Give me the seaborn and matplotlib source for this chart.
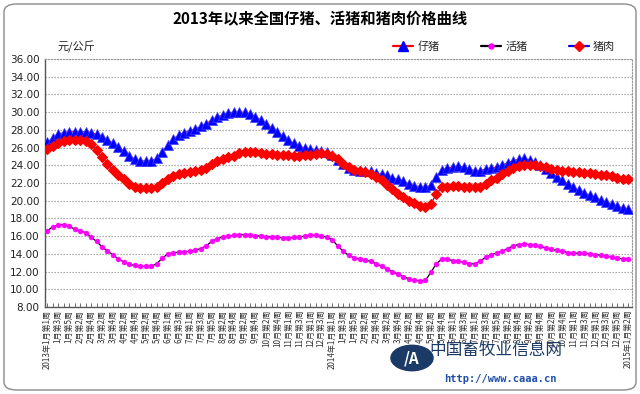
import matplotlib
matplotlib.use("Agg")
import matplotlib.pyplot as plt
from matplotlib.lines import Line2D
from matplotlib.patches import FancyBboxPatch, Circle
import seaborn as sns
import pandas as pd
import numpy as np

# ---------------- data ----------------
piglet = [26.6, 27.1, 27.5, 27.7, 27.8, 27.8, 27.8, 27.8, 27.7, 27.5,
          27.2, 26.9, 26.5, 26.1, 25.6, 25.1, 24.7, 24.5, 24.5, 24.5,
          24.8, 25.5, 26.3, 27.0, 27.4, 27.7, 27.9, 28.1, 28.4, 28.7,
          29.1, 29.4, 29.7, 29.9, 30.0, 30.0, 30.0, 29.8, 29.5, 29.1,
          28.7, 28.2, 27.8, 27.3, 26.8, 26.5, 26.2, 25.9, 25.8, 25.7,
          25.6, 25.5, 25.2, 24.6, 24.1, 23.7, 23.5, 23.4, 23.3, 23.3,
          23.1, 23.0, 22.9, 22.6, 22.4, 22.2, 21.9, 21.7, 21.6, 21.5,
          21.8, 22.7, 23.5, 23.7, 23.8, 23.9, 23.8, 23.6, 23.4, 23.4,
          23.6, 23.7, 23.8, 24.0, 24.3, 24.5, 24.7, 24.8, 24.6, 24.4,
          24.0, 23.6, 23.1, 22.7, 22.3, 21.9, 21.5, 21.2, 20.9, 20.6,
          20.4, 20.1, 19.9, 19.6, 19.4, 19.2, 19.1]

hog = [16.6, 17.05, 17.25, 17.3, 17.1, 16.8, 16.6, 16.4, 15.9, 15.4,
       14.8, 14.3, 13.9, 13.4, 13.1, 12.8, 12.7, 12.6, 12.6, 12.6,
       12.9, 13.5, 14.0, 14.1, 14.2, 14.25, 14.3, 14.4, 14.6, 14.9,
       15.4, 15.7, 15.9, 16.0, 16.1, 16.15, 16.15, 16.1, 16.05, 16.0,
       15.95, 15.9, 15.85, 15.8, 15.8, 15.85, 15.9, 16.0, 16.1, 16.1,
       16.0, 15.9, 15.6, 14.9, 14.3, 13.85, 13.55, 13.4, 13.3, 13.15,
       12.9, 12.6, 12.3, 12.0, 11.7, 11.4, 11.2, 11.05, 10.95, 11.0,
       11.9, 12.9, 13.4, 13.4, 13.25, 13.15, 13.05, 12.9, 12.85, 13.2,
       13.6, 13.9, 14.1, 14.3, 14.6, 14.9, 15.05, 15.1, 15.05, 15.0,
       14.85, 14.65, 14.5, 14.4, 14.3, 14.15, 14.05, 14.1, 14.05, 14.0,
       13.9, 13.85, 13.75, 13.6, 13.5, 13.45, 13.45]

pork = [25.8, 26.2, 26.5, 26.7, 26.8, 26.8, 26.8, 26.7, 26.4, 25.7,
        24.9, 24.2, 23.5, 22.9, 22.4, 21.9, 21.6, 21.4, 21.4, 21.4,
        21.5, 22.0, 22.5, 22.8, 23.0, 23.1, 23.2, 23.3, 23.5, 23.7,
        24.1, 24.5, 24.7, 24.9, 25.1, 25.4, 25.5, 25.5, 25.5, 25.4,
        25.3, 25.3, 25.2, 25.2, 25.2, 25.1, 25.1, 25.2, 25.2, 25.3,
        25.4, 25.3, 25.0, 24.7, 24.2, 23.8, 23.5, 23.4, 23.2, 23.0,
        22.7, 22.3, 21.8, 21.3, 20.8, 20.4, 20.0, 19.7, 19.4, 19.3,
        19.6, 20.8, 21.5, 21.6, 21.7, 21.7, 21.6, 21.6, 21.5, 21.5,
        21.9, 22.3, 22.6, 23.0, 23.3, 23.7, 23.9, 24.0, 24.0, 24.0,
        23.9, 23.8, 23.6, 23.5, 23.4, 23.3, 23.25, 23.2, 23.1, 23.1,
        23.0, 22.95, 22.85, 22.75, 22.6, 22.5, 22.4]

week_labels = [
    "2013年1月第1周", "1月第3周", "1月第5周", "2月第2周", "2月第4周", "3月第2周",
    "3月第4周", "4月第2周", "4月第4周", "5月第2周", "5月第4周", "6月第1周",
    "6月第3周", "7月第1周", "7月第3周", "7月第5周", "8月第2周", "8月第4周",
    "9月第2周", "9月第4周", "10月第2周", "10月第4周", "11月第1周", "11月第3周",
    "12月第1周", "12月第3周",
    "2014年1月第1周", "1月第3周", "1月第5周", "2月第2周", "2月第4周", "3月第2周",
    "3月第4周", "4月第2周", "4月第4周", "5月第2周", "5月第4周", "6月第1周",
    "6月第3周", "7月第1周", "7月第3周", "7月第5周", "8月第2周", "8月第4周",
    "9月第2周", "9月第4周", "10月第2周", "10月第4周", "11月第1周", "11月第3周",
    "12月第1周", "12月第3周", "12月第5周",
    "2015年1月第2周"]

series_names = ["仔猪", "活猪", "猪肉"]
y_ticks = [8, 10, 12, 14, 16, 18, 20, 22, 24, 26, 28, 30, 32, 34, 36]

# ---------------- style ----------------
sns.set_theme(style="white")
plt.rcParams["font.family"] = ["Noto Sans CJK SC", "DejaVu Sans"]

fig = plt.figure(figsize=(6.4, 3.94), dpi=100)
ax = fig.add_axes([45 / 640, 1 - 307 / 394, (632 - 45) / 640, (307 - 59) / 394])

weeks = np.arange(len(piglet))
df = pd.DataFrame({"week": weeks, "仔猪": piglet, "活猪": hog, "猪肉": pork})

sns.lineplot(data=df, x="week", y="仔猪", ax=ax, color="#ff0000", lw=0.8,
             marker="^", markersize=6.8, markerfacecolor="#0000ff",
             markeredgecolor="#3c3cff", markeredgewidth=0.5, zorder=3)
sns.lineplot(data=df, x="week", y="活猪", ax=ax, color="black", lw=0.9,
             marker="o", markersize=3.6, markerfacecolor="#ff00ff",
             markeredgecolor="#ff00ff", markeredgewidth=0.3, zorder=3)
sns.lineplot(data=df, x="week", y="猪肉", ax=ax, color="#0000ff", lw=0.8,
             marker="D", markersize=4.8, markerfacecolor="#ff0000",
             markeredgecolor="#ff0000", markeredgewidth=0.8, zorder=4)

ax.set_xlim(-0.4, 106.7)
ax.set_ylim(8, 36)
ax.set_yticks(y_ticks)
ax.set_yticklabels([f"{v:.2f}" for v in y_ticks], fontsize=7.5, color="#222222",
                   family=["DejaVu Sans"])
ax.set_xticks(np.arange(0, len(piglet), 2))
ax.set_xticklabels(week_labels, rotation=90, fontsize=5.8, color="#333333",
                   va="top", ha="center")
ax.set_xticks(weeks, minor=True)
ax.tick_params(axis="x", which="both", direction="in", length=3, width=0.6,
               color="#555555", pad=2, bottom=True)
ax.tick_params(axis="y", length=0, pad=4)
ax.set_xlabel("")
ax.set_ylabel("")

for v in y_ticks[1:]:
    ax.axhline(v, color="#9a9a9a", lw=0.8, ls=(0, (1.2, 1.5)), zorder=1)

for side in ["top", "right"]:
    ax.spines[side].set_linestyle((0, (1.2, 1.5)))
    ax.spines[side].set_color("#9a9a9a")
    ax.spines[side].set_linewidth(0.8)
ax.spines["left"].set_color("#555555")
ax.spines["left"].set_linewidth(1.0)
ax.spines["bottom"].set_color("#555555")
ax.spines["bottom"].set_linewidth(1.0)

# title & unit
fig.text(0.5, 1 - 19 / 394, "2013年以来全国仔猪、活猪和猪肉价格曲线", ha="center",
         va="center", fontsize=11, fontweight="bold", color="black")
fig.text(58 / 640, 1 - 47 / 394, "元/公斤", ha="left", va="center", fontsize=8,
         color="#222222")

# legend
handles = [
    Line2D([], [], color="#ff0000", lw=1.6, marker="^", markersize=6.5,
           markerfacecolor="#0000ff", markeredgecolor="#0000ff"),
    Line2D([], [], color="black", lw=1.6, marker="o", markersize=3.6,
           markerfacecolor="#ff00ff", markeredgecolor="#ff00ff"),
    Line2D([], [], color="#0000ff", lw=1.6, marker="D", markersize=4.6,
           markerfacecolor="#ff0000", markeredgecolor="#ff0000"),
]
fig.legend(handles, series_names, loc="center left",
           bbox_to_anchor=(393 / 640, 1 - 47 / 394), ncol=3, frameon=False,
           fontsize=8, handlelength=1.8, handletextpad=0.4, columnspacing=3.7,
           numpoints=1, borderpad=0, borderaxespad=0)

# watermark
fig.patches.append(Circle((412 / 640, 1 - 358 / 394), 0.034, transform=fig.transFigure,
                          facecolor="#1b3a66", edgecolor="none", zorder=10))
fig.text(412 / 640, 1 - 358 / 394, "/A", ha="center", va="center", fontsize=11,
         color="white", fontweight="bold", zorder=11, style="italic")
fig.text(496 / 640, 1 - 350 / 394, "中国畜牧业信息网", ha="center", va="center",
         fontsize=12, color="#1b3a66", zorder=11)
fig.text(500 / 640, 1 - 379 / 394, "http://www.caaa.cn", ha="center", va="center",
         fontsize=7.5, color="#1f4fa8", fontweight="bold", zorder=11,
         family=["DejaVu Sans Mono"])

# outer rounded frame
fig.patches.append(FancyBboxPatch((4 / 640, 4 / 394), 632 / 640, 386 / 394,
                                  boxstyle="round,pad=0,rounding_size=0.02",
                                  transform=fig.transFigure, facecolor="none",
                                  edgecolor="#8a8a8a", lw=1.0, zorder=0))

fig.savefig("out.png", dpi=100)
